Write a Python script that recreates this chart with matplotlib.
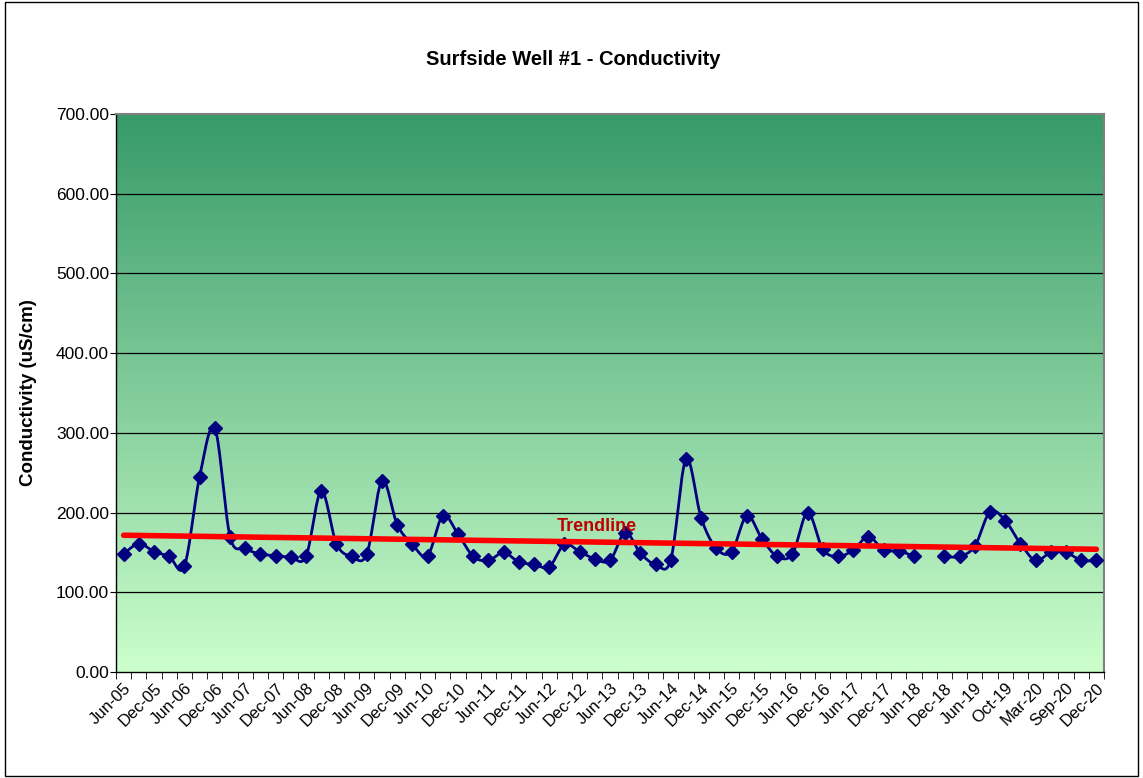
import matplotlib
matplotlib.use('Agg')
import matplotlib.pyplot as plt
from matplotlib.colors import LinearSegmentedColormap
from matplotlib.patches import Rectangle
import numpy as np

# quarterly samples, Jun-05 .. Dec-20 (one missing reading at index 53)
conductivity = [148, 161, 151, 145, 133, 245, 306, 170, 155, 148, 146, 144, 145,
                227, 161, 145, 148, 240, 185, 160, 146, 196, 173, 145, 140, 150,
                138, 135, 132, 160, 151, 142, 140, 175, 149, 135, 141, 267, 193,
                155, 151, 196, 167, 145, 148, 200, 154, 145, 153, 170, 153, 152,
                145, np.nan, 145, 145, 158, 201, 190, 161, 140, 150, 150, 140, 140]

tick_labels = ['Jun-05', 'Dec-05', 'Jun-06', 'Dec-06', 'Jun-07', 'Dec-07', 'Jun-08',
               'Dec-08', 'Jun-09', 'Dec-09', 'Jun-10', 'Dec-10', 'Jun-11', 'Dec-11',
               'Jun-12', 'Dec-12', 'Jun-13', 'Dec-13', 'Jun-14', 'Dec-14', 'Jun-15',
               'Dec-15', 'Jun-16', 'Dec-16', 'Jun-17', 'Dec-17', 'Jun-18', 'Dec-18',
               'Jun-19', 'Oct-19', 'Mar-20', 'Sep-20', 'Dec-20']

y_ticks = [0, 100, 200, 300, 400, 500, 600, 700]


def smooth_runs(x, y, n=20):
    '''Excel style smoothed line (Catmull-Rom bezier), broken at NaN gaps'''
    runs = []
    good = ~np.isnan(y)
    i = 0
    while i < len(y):
        if not good[i]:
            i += 1
            continue
        j = i
        while j < len(y) and good[j]:
            j += 1
        px, py = x[i:j], y[i:j]
        if len(px) == 1:
            runs.append((px, py))
        else:
            sx, sy = [], []
            for k in range(len(px) - 1):
                p0 = np.array([px[max(k - 1, 0)], py[max(k - 1, 0)]])
                p1 = np.array([px[k], py[k]])
                p2 = np.array([px[k + 1], py[k + 1]])
                p3 = np.array([px[min(k + 2, len(px) - 1)], py[min(k + 2, len(px) - 1)]])
                c1 = p1 + (p2 - p0) / 6.0
                c2 = p2 - (p3 - p1) / 6.0
                t = np.linspace(0, 1, n)[:, None]
                b = ((1 - t)**3) * p1 + 3 * ((1 - t)**2) * t * c1 + 3 * (1 - t) * t**2 * c2 + t**3 * p2
                sx.extend(b[:, 0])
                sy.extend(b[:, 1])
            runs.append((np.array(sx), np.array(sy)))
        i = j
    return runs


y = np.array(conductivity, dtype=float)
x = np.arange(len(y))

fig = plt.figure(figsize=(11.43, 7.78), dpi=100)
plt.rcParams['font.family'] = ['Liberation Sans', 'DejaVu Sans']
ax = fig.add_axes([0.1015, 0.1362, 0.8644, 0.7173])

# green gradient background of the plot area
cmap = LinearSegmentedColormap.from_list('bg', ['#CCFFCC', '#379A69'])
grad = np.linspace(0, 1, 256)[:, None]
ax.imshow(grad, cmap=cmap, origin='lower', aspect='auto',
          extent=[-0.5, len(y) - 0.5, 0, 700], zorder=0)

for v in y_ticks[1:-1]:
    ax.axhline(v, color='black', lw=0.9, zorder=1)

for sx, sy in smooth_runs(x, y):
    ax.plot(sx, sy, color='#000080', lw=2.0, zorder=3)
ax.plot(x, y, ls='none', marker='D', ms=7, color='#000080', zorder=4)

# linear trendline
good = ~np.isnan(y)
m, b = np.polyfit(x[good], y[good], 1)
ax.plot([x[0], x[-1]], [m * x[0] + b, m * x[-1] + b], color='#FF0000', lw=4, zorder=5,
        solid_capstyle='round')
ax.text(28.5, 183, 'Trendline', color='#C00000', fontsize=13, fontweight='bold',
        ha='left', va='center', zorder=6)

ax.set_xlim(-0.5, len(y) - 0.5)
ax.set_ylim(0, 700)
ax.set_yticks(y_ticks)
ax.set_yticklabels(['%.2f' % v for v in y_ticks], fontsize=12.5)
ax.set_xticks(np.arange(0, len(y), 2))
ax.set_xticklabels(tick_labels, fontsize=12, rotation=45, ha='right', va='top',
                   rotation_mode='anchor')
ax.set_xticks(np.arange(-0.5, len(y), 1), minor=True)
ax.tick_params(axis='x', which='major', length=0, pad=6)
ax.tick_params(axis='x', which='minor', length=5, direction='out', color='black')
ax.tick_params(axis='y', length=4, direction='out', pad=1)

for s in ['top', 'right']:
    ax.spines[s].set_color('#808080')
    ax.spines[s].set_linewidth(1.5)
for s in ['left', 'bottom']:
    ax.spines[s].set_color('black')
    ax.spines[s].set_linewidth(1.0)

ax.set_ylabel('Conductivity (uS/cm)', fontsize=13.5, fontweight='bold', labelpad=14)
fig.text(0.5015, 0.923, 'Surfside Well #1 - Conductivity', fontsize=14.5, fontweight='bold',
         ha='center', va='center')

# chart area border
fig.patches.append(Rectangle((0.004, 0.003), 0.992, 0.994, transform=fig.transFigure,
                             fill=False, edgecolor='black', lw=1.0))

fig.savefig('out.png', dpi=100)
